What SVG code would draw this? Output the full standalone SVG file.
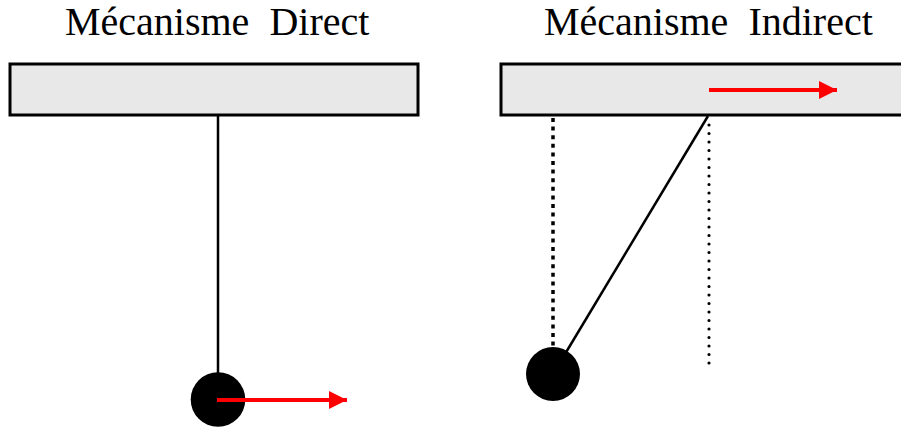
<svg xmlns="http://www.w3.org/2000/svg" width="901" height="428" viewBox="0 0 901 428">
<style>
.title{font-family:'Liberation Serif','Times New Roman',Times,'DejaVu Serif',serif;font-size:40px;fill:#000}
.bar{fill:#e8e8e8;stroke:#000;stroke-width:3}
.rod{stroke:#000;stroke-width:2.5;fill:none}
.bob{fill:#000}
.force{stroke:#ff0000;stroke-width:4;fill:none}
.sq{stroke:#000;stroke-width:3.5;stroke-dasharray:4 4.6;fill:none}
.dot{stroke:#000;stroke-width:3.2;stroke-linecap:round;stroke-dasharray:0 8.5;fill:none}
</style>
<defs>
<marker id="ah" markerUnits="userSpaceOnUse" markerWidth="18" markerHeight="18" viewBox="0 0 17 17" refX="17" refY="8.5" orient="auto">
<path d="M0,0 L17,8.5 L0,17 Z" fill="#ff0000"/>
</marker>
</defs>
<g id="direct">
<text class="title" font-family="Liberation Serif, serif" x="65" y="35" xml:space="preserve">Mécanisme  Direct</text>
<rect id="bar-direct" class="bar" x="10" y="64" width="408" height="51"/>
<g id="connectors-direct">
<line class="rod" x1="218" y1="115" x2="218" y2="385"/>
</g>
<circle id="bob-direct" class="bob" cx="218" cy="399.5" r="27.3"/>
<line class="force" x1="217" y1="400" x2="347" y2="400" marker-end="url(#ah)"/>
</g>
<g id="indirect">
<text class="title" font-family="Liberation Serif, serif" x="544" y="35" xml:space="preserve">Mécanisme  Indirect</text>
<rect id="bar-indirect" class="bar" x="501" y="64" width="410" height="51"/>
<line class="force" x1="709" y1="90" x2="837" y2="90" marker-end="url(#ah)"/>
<g id="connectors-indirect">
<line class="sq" x1="553" y1="118" x2="553" y2="346"/>
<line class="dot" x1="709" y1="125" x2="709" y2="366"/>
<line class="rod" x1="708" y1="116" x2="553" y2="374"/>
</g>
<circle id="bob-indirect" class="bob" cx="553" cy="374" r="27"/>
</g>
</svg>
